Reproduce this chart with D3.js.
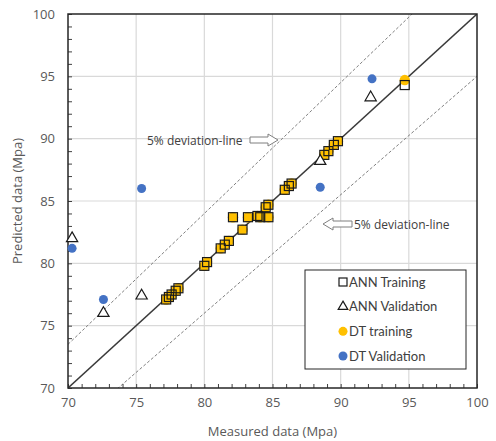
<!DOCTYPE html>
<html>
<head>
<meta charset="utf-8">
<script src="https://cdn.jsdelivr.net/npm/d3@7"></script>
<style>
  body { margin: 0; background: #fff; }
  svg { display: block; }
</style>
</head>
<body>
<div id="wrapper"></div>
<script>
const annTrainMeasured = [77.2, 77.4, 77.6, 77.9, 78.1, 80.0, 80.2, 81.2, 81.5, 81.8, 82.1, 82.8, 83.2, 83.9, 84.1, 84.5, 84.7, 84.7, 85.9, 86.2, 86.4, 88.8, 89.1, 89.5, 89.8, 94.7]
const annTrainPredicted = [77.1, 77.3, 77.5, 77.8, 78.0, 79.8, 80.1, 81.2, 81.5, 81.8, 83.7, 82.7, 83.7, 83.8, 83.7, 84.5, 84.7, 83.7, 85.9, 86.2, 86.4, 88.7, 89.0, 89.5, 89.8, 94.3]

const annValMeasured = [70.3, 72.6, 75.4, 88.5, 92.2]
const annValPredicted = [82.0, 76.0, 77.4, 88.2, 93.3]

const dtTrainMeasured = [77.2, 77.4, 77.6, 77.9, 78.1, 80.0, 80.2, 81.2, 81.5, 81.8, 82.1, 82.8, 83.2, 83.9, 84.1, 84.5, 84.7, 84.7, 85.9, 86.2, 86.4, 88.8, 89.1, 89.5, 89.8, 94.7]
const dtTrainPredicted = [77.1, 77.3, 77.5, 77.8, 78.0, 79.8, 80.1, 81.2, 81.5, 81.8, 83.7, 82.7, 83.7, 83.8, 83.7, 84.5, 84.7, 83.7, 85.9, 86.2, 86.4, 88.7, 89.0, 89.5, 89.8, 94.7]

const dtValMeasured = [70.3, 72.6, 75.4, 88.5, 92.3]
const dtValPredicted = [81.2, 77.1, 86.0, 86.1, 94.8]

const majorTicks = [70, 75, 80, 85, 90, 95, 100]
const legendLabels = ["ANN Training", "ANN Validation", "DT training", "DT Validation"]

const toPoints = (xs, ys) => xs.map((x, i) => ({ x, y: ys[i] }))

let dimensions = {
  width: 496,
  height: 441,
  margin: { top: 14, right: 19, bottom: 53, left: 68 },
}
dimensions.boundedWidth = dimensions.width - dimensions.margin.left - dimensions.margin.right
dimensions.boundedHeight = dimensions.height - dimensions.margin.top - dimensions.margin.bottom

const wrapper = d3.select("#wrapper")
  .append("svg")
    .attr("width", dimensions.width)
    .attr("height", dimensions.height)

const bounds = wrapper.append("g")
  .attr("transform", `translate(${dimensions.margin.left},${dimensions.margin.top})`)

const xScale = d3.scaleLinear()
  .domain([70, 100])
  .range([0, dimensions.boundedWidth])

const yScale = d3.scaleLinear()
  .domain([70, 100])
  .range([dimensions.boundedHeight, 0])

// gridlines
bounds.selectAll(".grid-x")
  .data(majorTicks.slice(1, -1))
  .join("line")
    .attr("x1", d => xScale(d))
    .attr("x2", d => xScale(d))
    .attr("y1", 0)
    .attr("y2", dimensions.boundedHeight)
    .attr("stroke", "#d9d9d9")
    .attr("stroke-width", 1.2)

bounds.selectAll(".grid-y")
  .data(majorTicks.slice(1, -1))
  .join("line")
    .attr("x1", 0)
    .attr("x2", dimensions.boundedWidth)
    .attr("y1", d => yScale(d))
    .attr("y2", d => yScale(d))
    .attr("stroke", "#d9d9d9")
    .attr("stroke-width", 1.2)

// clip for reference lines
bounds.append("clipPath")
  .attr("id", "plot-clip")
  .append("rect")
    .attr("width", dimensions.boundedWidth)
    .attr("height", dimensions.boundedHeight)

const refLine = d3.line()
  .x(d => xScale(d[0]))
  .y(d => yScale(d[1]))

const lineGroup = bounds.append("g").attr("clip-path", "url(#plot-clip)")

lineGroup.append("path")
  .attr("d", refLine([[70, 73.5], [100, 105]]))
  .attr("fill", "none")
  .attr("stroke", "#808080")
  .attr("stroke-width", 1)
  .attr("stroke-dasharray", "3 2")

lineGroup.append("path")
  .attr("d", refLine([[70, 66.5], [100, 95]]))
  .attr("fill", "none")
  .attr("stroke", "#808080")
  .attr("stroke-width", 1)
  .attr("stroke-dasharray", "3 2")

lineGroup.append("path")
  .attr("d", refLine([[70, 70], [100, 100]]))
  .attr("fill", "none")
  .attr("stroke", "#3a3a3a")
  .attr("stroke-width", 1.5)

// minor ticks pointing inwards
const minorTicks = d3.range(70, 101, 1)

bounds.append("g")
  .call(d3.axisLeft(yScale).tickValues(minorTicks).tickSize(-4).tickFormat(""))
  .call(g => g.select(".domain").remove())
  .selectAll("line").attr("stroke", "#404040")

bounds.append("g")
  .attr("transform", `translate(0,${dimensions.boundedHeight})`)
  .call(d3.axisBottom(xScale).tickValues(minorTicks).tickSize(-4).tickFormat(""))
  .call(g => g.select(".domain").remove())
  .selectAll("line").attr("stroke", "#404040")

// tick labels
const yAxis = bounds.append("g")
  .call(d3.axisLeft(yScale).tickValues(majorTicks).tickSize(0).tickPadding(13))
yAxis.select(".domain").remove()
yAxis.selectAll("text")
  .style("font-family", "'Open Sans', sans-serif")
  .style("font-size", "13px")
  .attr("fill", "#595959")

const xAxis = bounds.append("g")
  .attr("transform", `translate(0,${dimensions.boundedHeight})`)
  .call(d3.axisBottom(xScale).tickValues(majorTicks).tickSize(0).tickPadding(10))
xAxis.select(".domain").remove()
xAxis.selectAll("text")
  .style("font-family", "'Open Sans', sans-serif")
  .style("font-size", "13px")
  .attr("fill", "#595959")

// plot border
bounds.append("rect")
  .attr("width", dimensions.boundedWidth)
  .attr("height", dimensions.boundedHeight)
  .attr("fill", "none")
  .attr("stroke", "#262626")
  .attr("stroke-width", 1.5)

// axis titles
wrapper.append("text")
  .attr("x", dimensions.margin.left + dimensions.boundedWidth / 2)
  .attr("y", 436)
  .attr("text-anchor", "middle")
  .style("font-family", "'Open Sans', sans-serif")
  .style("font-size", "13px")
  .attr("fill", "#595959")
  .text("Measured data (Mpa)")

wrapper.append("text")
  .attr("transform", `translate(22,${dimensions.margin.top + dimensions.boundedHeight / 2}) rotate(-90)`)
  .attr("text-anchor", "middle")
  .style("font-family", "'Open Sans', sans-serif")
  .style("font-size", "13px")
  .attr("fill", "#595959")
  .text("Predicted data (Mpa)")

// annotations with hollow block arrows
function blockArrow(x0, x1, y, dir) {
  const len = x1 - x0
  const head = 10
  const sh = 3, hh = 6
  let pts
  if (dir === "right") {
    pts = [[x0, y - sh], [x1 - head, y - sh], [x1 - head, y - hh], [x1, y], [x1 - head, y + hh], [x1 - head, y + sh], [x0, y + sh]]
  } else {
    pts = [[x1, y - sh], [x0 + head, y - sh], [x0 + head, y - hh], [x0, y], [x0 + head, y + hh], [x0 + head, y + sh], [x1, y + sh]]
  }
  wrapper.append("path")
    .attr("d", d3.line()(pts) + "Z")
    .attr("fill", "#fff")
    .attr("stroke", "#7f7f7f")
    .attr("stroke-width", 1)
}

wrapper.append("text")
  .attr("x", 147)
  .attr("y", 145)
  .style("font-family", "'Open Sans', sans-serif")
  .style("font-size", "12px")
  .attr("fill", "#404040")
  .text("5% deviation-line")
blockArrow(250, 278, 140, "right")

blockArrow(323, 352, 224, "left")
wrapper.append("text")
  .attr("x", 354)
  .attr("y", 229)
  .style("font-family", "'Open Sans', sans-serif")
  .style("font-size", "12px")
  .attr("fill", "#404040")
  .text("5% deviation-line")

// points
const triangle = d3.symbol().type(d3.symbolTriangle).size(55)

bounds.selectAll(".dt-train")
  .data(toPoints(dtTrainMeasured, dtTrainPredicted))
  .join("circle")
    .attr("cx", d => xScale(d.x))
    .attr("cy", d => yScale(d.y))
    .attr("r", 5.2)
    .attr("fill", "#ffc000")

bounds.selectAll(".ann-train")
  .data(toPoints(annTrainMeasured, annTrainPredicted))
  .join("rect")
    .attr("x", d => xScale(d.x) - 4.5)
    .attr("y", d => yScale(d.y) - 4.5)
    .attr("width", 9)
    .attr("height", 9)
    .attr("fill", "none")
    .attr("stroke", "#1a1a1a")
    .attr("stroke-width", 1.2)

bounds.selectAll(".ann-val")
  .data(toPoints(annValMeasured, annValPredicted))
  .join("path")
    .attr("d", triangle)
    .attr("transform", d => `translate(${xScale(d.x)},${yScale(d.y)})`)
    .attr("fill", "#fff")
    .attr("stroke", "#1a1a1a")
    .attr("stroke-width", 1.2)

bounds.selectAll(".dt-val")
  .data(toPoints(dtValMeasured, dtValPredicted))
  .join("circle")
    .attr("cx", d => xScale(d.x))
    .attr("cy", d => yScale(d.y))
    .attr("r", 4.5)
    .attr("fill", "#4472c4")

// legend
const legend = wrapper.append("g")
legend.append("rect")
  .attr("x", 305)
  .attr("y", 270)
  .attr("width", 161)
  .attr("height", 99)
  .attr("fill", "#fff")
  .attr("stroke", "#262626")
  .attr("stroke-width", 1)

const legendY = d3.scalePoint()
  .domain(legendLabels)
  .range([282, 356])

legendLabels.forEach((label, i) => {
  const y = legendY(label)
  const cx = 343
  if (i === 0) {
    legend.append("rect")
      .attr("x", cx - 4).attr("y", y - 4)
      .attr("width", 8).attr("height", 8)
      .attr("fill", "none").attr("stroke", "#1a1a1a").attr("stroke-width", 1.2)
  } else if (i === 1) {
    legend.append("path")
      .attr("d", d3.symbol().type(d3.symbolTriangle).size(40)())
      .attr("transform", `translate(${cx},${y})`)
      .attr("fill", "#fff").attr("stroke", "#1a1a1a").attr("stroke-width", 1.2)
  } else {
    legend.append("circle")
      .attr("cx", cx).attr("cy", y).attr("r", 4.5)
      .attr("fill", i === 2 ? "#ffc000" : "#4472c4")
  }
  legend.append("text")
    .attr("x", 349)
    .attr("y", y + 4.5)
    .style("font-family", "Lato, sans-serif")
    .style("font-size", "13px")
    .attr("fill", "#404040")
    .text(label)
})
</script>
</body>
</html>
